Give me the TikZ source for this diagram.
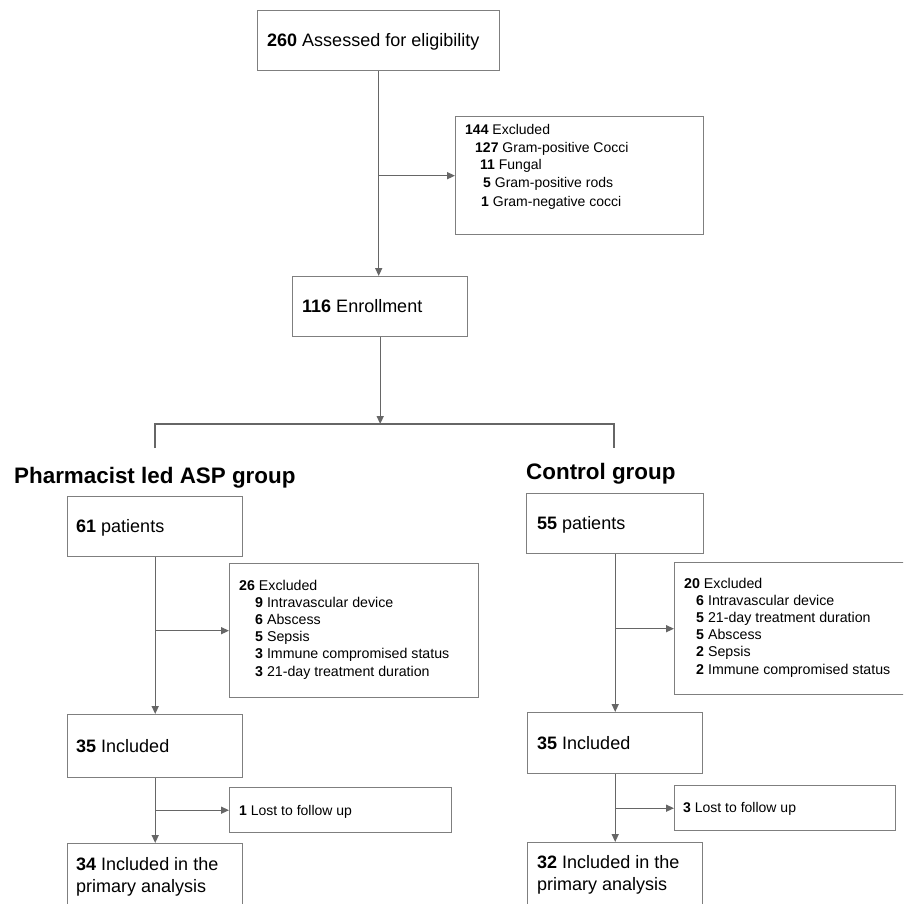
\documentclass[tikz,border=0pt]{standalone}
\usepackage{fontspec}
\setmainfont{Liberation Sans}
\usetikzlibrary{arrows.meta}
\definecolor{boxgray}{HTML}{7F7F7F}
\definecolor{linegray}{HTML}{666666}
\begin{document}
\begin{tikzpicture}[x=1pt,y=-1pt,
  box/.style={draw=boxgray, line width=1.4pt, anchor=north west, inner sep=0pt},
  txt/.style={anchor=base west, inner sep=0pt, align=left, text=black},
  big/.style={font=\fontsize{18pt}{22pt}\selectfont},
  small/.style={font=\fontsize{14pt}{18pt}\selectfont},
  mid/.style={font=\fontsize{14.2pt}{17.2pt}\selectfont},
  head/.style={font=\fontsize{22.4pt}{26pt}\selectfont\bfseries},
  conn/.style={draw=linegray, line width=1.4pt},
  arr/.style={conn, -{Triangle[length=8pt,width=7pt]}}]
\clip (0,0) rectangle (903,904);
\fill[white] (0,0) rectangle (903,904);

% boxes
\node[box, minimum width=242pt, minimum height=60pt] (assess) at (257,10) {};
\node[box, minimum width=248pt, minimum height=118pt] (excA) at (455,116) {};
\node[box, minimum width=175pt, minimum height=60pt] (enroll) at (292,276) {};
\node[box, minimum width=175pt, minimum height=60pt] (pL) at (67,496) {};
\node[box, minimum width=249pt, minimum height=134pt] (excL) at (229,563) {};
\node[box, minimum width=175pt, minimum height=63pt] (incL) at (67,714) {};
\node[box, minimum width=222pt, minimum height=45pt] (lostL) at (229,787) {};
\node[box, minimum width=175pt, minimum height=66pt] (finL) at (67,843) {};
\node[box, minimum width=177pt, minimum height=60pt] (pR) at (526,493) {};
\node[box, minimum width=240pt, minimum height=132pt] (excR) at (674,562) {};
\node[box, minimum width=175pt, minimum height=61pt] (incR) at (527,712) {};
\node[box, minimum width=221pt, minimum height=45pt] (lostR) at (674,785) {};
\node[box, minimum width=175pt, minimum height=66pt] (finR) at (527,842) {};

% texts (base = baseline of last line)
\node[txt, big] (tAssess) at (267,47) {\textbf{260} Assessed for eligibility};
\node[txt, small] (tExcA) at (465,206) {\textbf{144} Excluded\\
\hspace{10pt}\textbf{127} Gram-positive Cocci\\
\hspace{15pt}\textbf{11} Fungal\\
\hspace{18pt}\textbf{5} Gram-positive rods\\
\hspace{16pt}\textbf{1} Gram-negative cocci};
\node[txt, big] (tEnroll) at (302,312) {\textbf{116} Enrollment};
\node[txt, head] (hL) at (14,483) {Pharmacist led ASP group};
\node[txt, head] (hR) at (526,479) {Control group};

\node[txt, big] (tpL) at (76,532) {\textbf{61} patients};
\node[txt, mid] (tExcL) at (239,676) {\textbf{26} Excluded\\
\hspace{16pt}\textbf{9} Intravascular device\\
\hspace{16pt}\textbf{6} Abscess\\
\hspace{16pt}\textbf{5} Sepsis\\
\hspace{16pt}\textbf{3} Immune compromised status\\
\hspace{16pt}\textbf{3} 21-day treatment duration};
\node[txt, big] (tIncL) at (76,752) {\textbf{35} Included};
\node[txt, small] (tLostL) at (239,815) {\textbf{1} Lost to follow up};
\node[txt, big] (tFinL) at (76,892) {\textbf{34} Included in the\\primary analysis};

\node[txt, big] (tpR) at (537,529) {\textbf{55} patients};
\node[txt, mid] (tExcR) at (684,674) {\textbf{20} Excluded\\
\hspace{12pt}\textbf{6} Intravascular device\\
\hspace{12pt}\textbf{5} 21-day treatment duration\\
\hspace{12pt}\textbf{5} Abscess\\
\hspace{12pt}\textbf{2} Sepsis\\
\hspace{12pt}\textbf{2} Immune compromised status};
\node[txt, big] (tIncR) at (537,749) {\textbf{35} Included};
\node[txt, small] (tLostR) at (683,812) {\textbf{3} Lost to follow up};
\node[txt, big] (tFinR) at (537,890) {\textbf{32} Included in the\\primary analysis};

% connectors
\draw[arr] (assess.south) -- (assess.south |- enroll.north);
\draw[arr] (assess.south |- excA.west) -- (excA.west);
\coordinate (split) at (enroll.south |- 0,424);
\coordinate (brL) at (155,424);
\coordinate (brR) at (614,424);
\coordinate (dropL) at (155,448);
\coordinate (dropR) at (614,448);
\draw[arr] (enroll.south) -- (split);
\draw[conn] (dropL) -- (brL) -- (brR) -- (dropR);

\draw[arr] (pL.south) -- (incL.north);
\draw[arr] (pL.south |- excL.west) -- (excL.west);
\draw[arr] (incL.south) -- (finL.north);
\draw[arr] (incL.south |- lostL.west) -- (lostL.west);

\draw[arr] (pR.south) -- (incR.north);
\draw[arr] (pR.south |- excR.west) -- (excR.west);
\draw[arr] (incR.south) -- (finR.north);
\draw[arr] (incR.south |- lostR.west) -- (lostR.west);
\end{tikzpicture}
\end{document}
